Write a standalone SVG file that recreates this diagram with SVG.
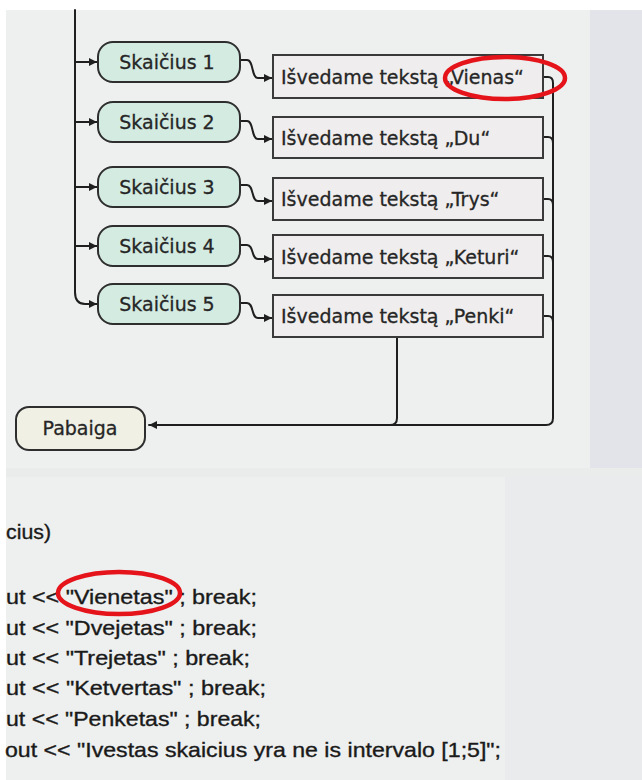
<svg xmlns="http://www.w3.org/2000/svg" width="642" height="780" viewBox="0 0 642 780">
<style>
.line{fill:none;stroke:#1f1f1f;stroke-width:2;stroke-linecap:round;stroke-linejoin:round}
.num{fill:#d4ebe2;stroke:#2e2e2e;stroke-width:2}
.out{fill:#efeded;stroke:#3a3a3a;stroke-width:2}
.end{fill:#f0f0e5;stroke:#2e2e2e;stroke-width:2}
.lbl{font-family:"DejaVu Sans",sans-serif;font-size:19px;fill:#262626;stroke:#262626;stroke-width:0.3}
.code{font-family:"Liberation Sans",Arial,sans-serif;font-size:21px;fill:#1a1a1a;stroke:#1a1a1a;stroke-width:0.35}
.ring{fill:none;stroke:#e5141b;stroke-width:4.5}
</style>
<defs>
<marker id="arr" markerUnits="userSpaceOnUse" markerWidth="9" markerHeight="8" refX="8" refY="4" orient="auto">
<path d="M0,0 L8,4 L0,8 z" fill="#1f1f1f"/>
</marker>
</defs>
<rect width="642" height="780" fill="#ffffff"/>
<rect x="6" y="10" width="636" height="770" fill="#eef0ef"/>
<rect x="590" y="10" width="52" height="470" fill="#e3e4ea"/>
<rect x="6" y="468" width="636" height="9" fill="#eaecec"/>
<rect x="505" y="477" width="137" height="303" fill="#eaebed"/>

<g id="connectors">
<path class="line" d="M75,10 V292 Q75,304 85,304 H97" marker-end="url(#arr)"/>
<path class="line" d="M75,62 H97" marker-end="url(#arr)"/>
<path class="line" d="M75,122 H97" marker-end="url(#arr)"/>
<path class="line" d="M75,187 H97" marker-end="url(#arr)"/>
<path class="line" d="M75,246 H97" marker-end="url(#arr)"/>
<path class="line" d="M240,60 H247 C254,60 251,78 258,78 H272" marker-end="url(#arr)"/>
<path class="line" d="M240,121 H247 C254,121 251,139 258,139 H272" marker-end="url(#arr)"/>
<path class="line" d="M240,185 H247 C254,185 251,201 258,201 H272" marker-end="url(#arr)"/>
<path class="line" d="M240,245 H247 C254,245 251,259 258,259 H272" marker-end="url(#arr)"/>
<path class="line" d="M240,303 H247 C254,303 251,318 258,318 H272" marker-end="url(#arr)"/>
<path class="line" d="M543,77 H548 Q553,77 553,83 V418 Q553,425 546,425 H149" marker-end="url(#arr)"/>
<path class="line" d="M543,137 H548 Q553,137 553,143"/>
<path class="line" d="M543,199 H548 Q553,199 553,205"/>
<path class="line" d="M543,256 H548 Q553,256 553,262"/>
<path class="line" d="M543,316 H548 Q553,316 553,322"/>
<path class="line" d="M397,337 V418 Q397,425 390,425"/>
</g>

<g id="n1"><rect class="num" x="98" y="42" width="142" height="40" rx="15"/><text class="lbl" x="167" y="69" text-anchor="middle">Skaičius 1</text></g>
<g id="n2"><rect class="num" x="98" y="102" width="142" height="40" rx="15"/><text class="lbl" x="167" y="129" text-anchor="middle">Skaičius 2</text></g>
<g id="n3"><rect class="num" x="98" y="167" width="142" height="40" rx="15"/><text class="lbl" x="167" y="194" text-anchor="middle">Skaičius 3</text></g>
<g id="n4"><rect class="num" x="98" y="226" width="142" height="40" rx="15"/><text class="lbl" x="167" y="253" text-anchor="middle">Skaičius 4</text></g>
<g id="n5"><rect class="num" x="98" y="284" width="142" height="40" rx="15"/><text class="lbl" x="167" y="311" text-anchor="middle">Skaičius 5</text></g>

<g id="o1"><rect class="out" x="273" y="55" width="270" height="43"/><text class="lbl" x="281" y="84">Išvedame tekstą „Vienas“</text></g>
<g id="o2"><rect class="out" x="273" y="117" width="270" height="41"/><text class="lbl" x="281" y="145">Išvedame tekstą „Du“</text></g>
<g id="o3"><rect class="out" x="273" y="178" width="270" height="42"/><text class="lbl" x="281" y="206">Išvedame tekstą „Trys“</text></g>
<g id="o4"><rect class="out" x="273" y="235" width="270" height="43"/><text class="lbl" x="281" y="264">Išvedame tekstą „Keturi“</text></g>
<g id="o5"><rect class="out" x="273" y="295" width="270" height="42"/><text class="lbl" x="281" y="323">Išvedame tekstą „Penki“</text></g>

<g id="end"><rect class="end" x="16" y="407" width="129" height="43" rx="13"/><text class="lbl" x="80" y="435" text-anchor="middle">Pabaiga</text></g>

<g id="code">
<text class="code" x="6" y="539" textLength="45" lengthAdjust="spacingAndGlyphs">cius)</text>
<text class="code" x="6" y="604" textLength="251" lengthAdjust="spacingAndGlyphs">ut &lt;&lt; "Vienetas" ; break;</text>
<text class="code" x="6" y="635" textLength="251" lengthAdjust="spacingAndGlyphs">ut &lt;&lt; "Dvejetas" ; break;</text>
<text class="code" x="6" y="665" textLength="244" lengthAdjust="spacingAndGlyphs">ut &lt;&lt; "Trejetas" ; break;</text>
<text class="code" x="6" y="695" textLength="260" lengthAdjust="spacingAndGlyphs">ut &lt;&lt; "Ketvertas" ; break;</text>
<text class="code" x="6" y="726" textLength="255" lengthAdjust="spacingAndGlyphs">ut &lt;&lt; "Penketas" ; break;</text>
<text class="code" x="5" y="757" textLength="496" lengthAdjust="spacingAndGlyphs">out &lt;&lt; "Ivestas skaicius yra ne is intervalo [1;5]";</text>
</g>

<g id="annotations">
<ellipse class="ring" cx="505" cy="78" rx="60" ry="21"/>
<ellipse class="ring" cx="119" cy="593" rx="61" ry="21"/>
</g>
</svg>
